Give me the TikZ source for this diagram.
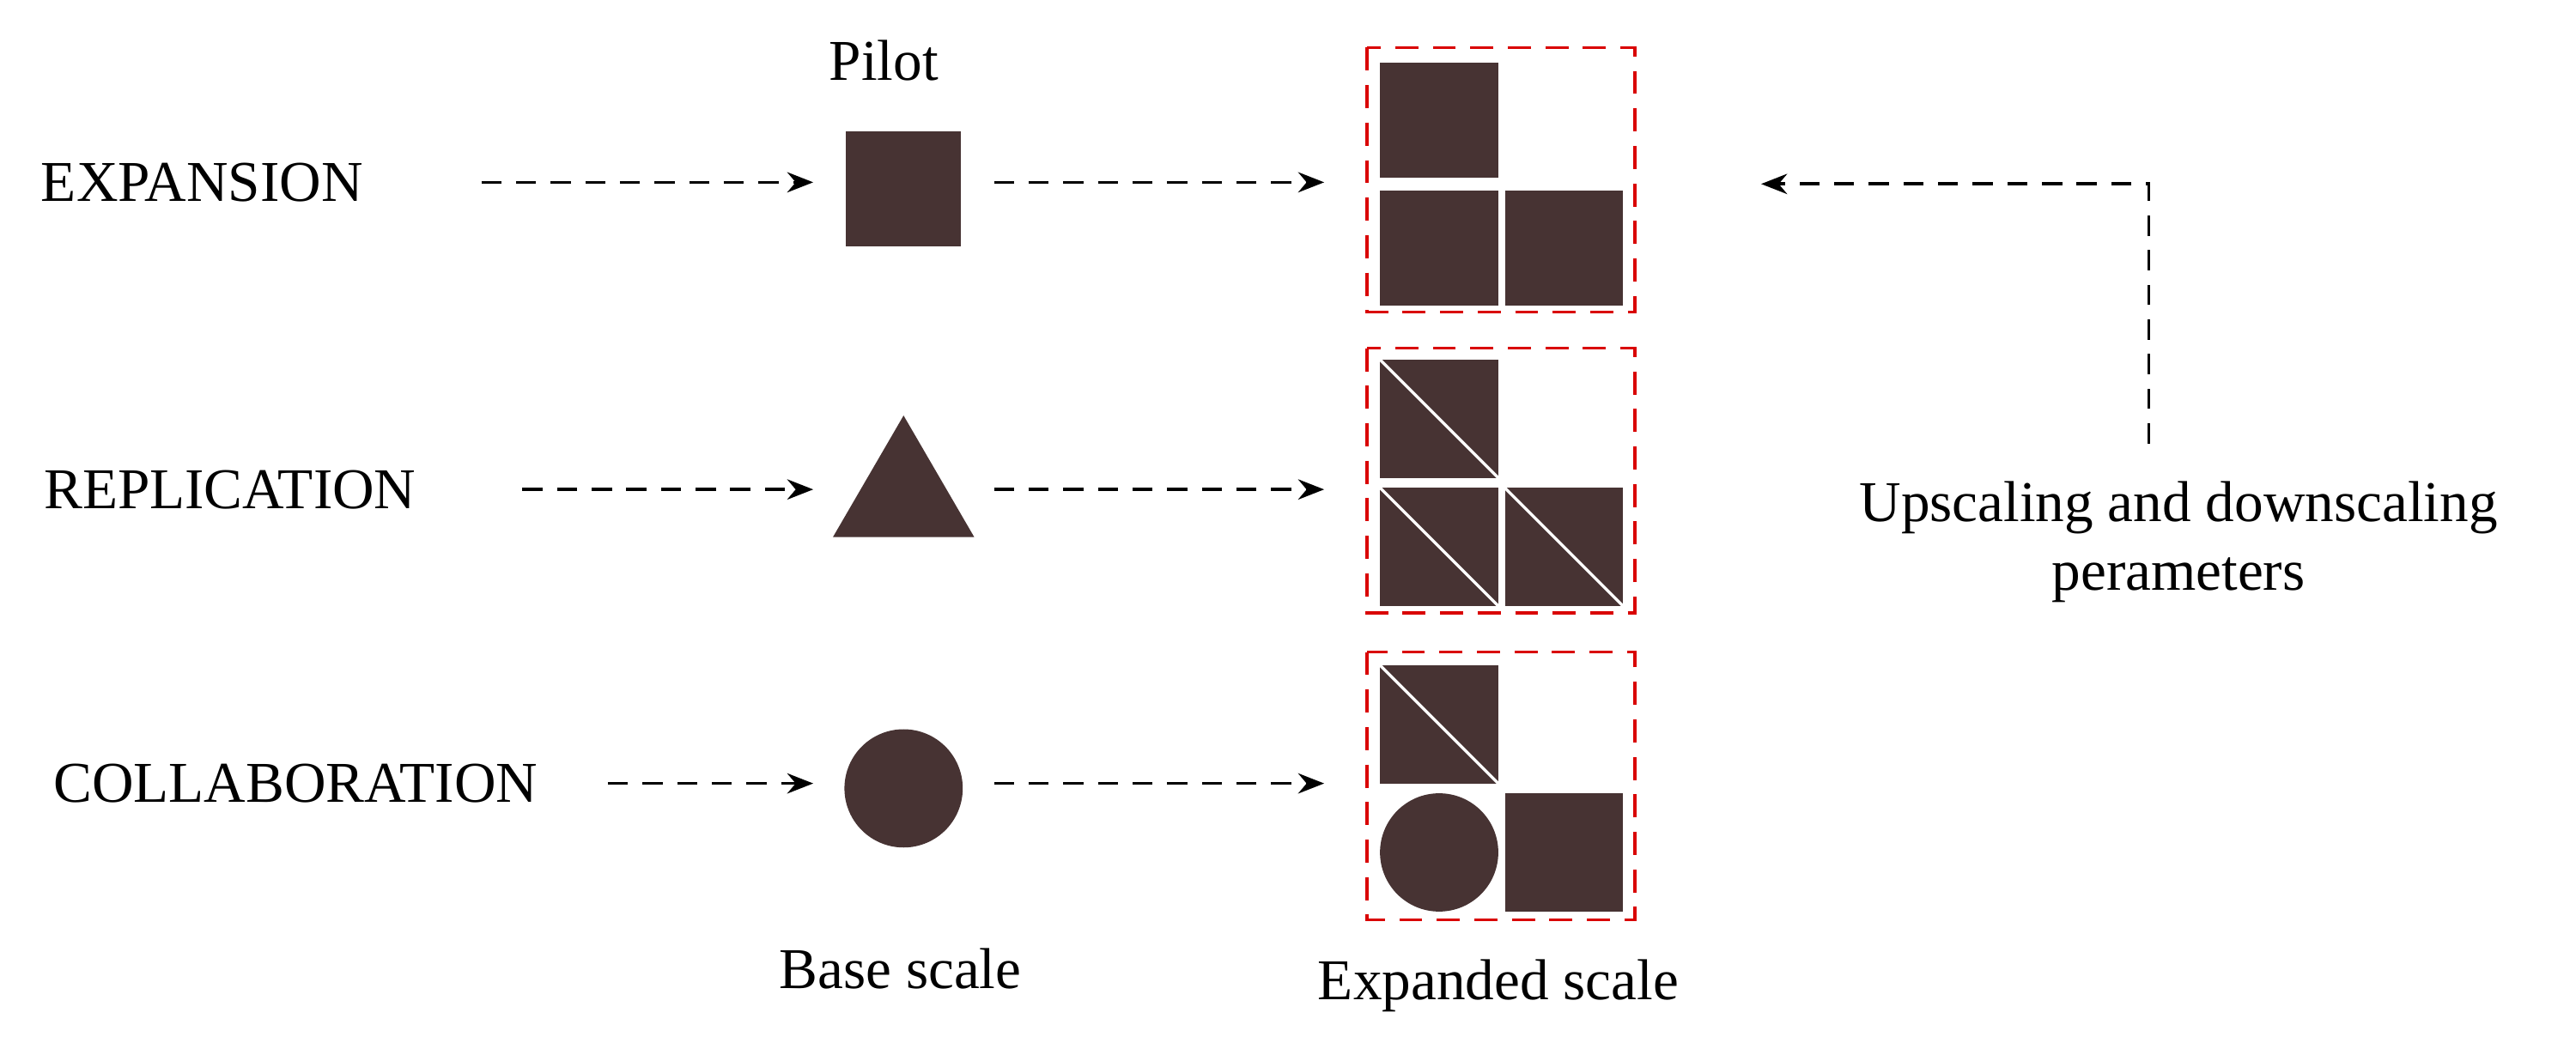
\documentclass[tikz,border=0pt]{standalone}
\usepackage{fontspec}
\setmainfont{Liberation Serif}
\usetikzlibrary{arrows.meta}
\begin{document}
\begin{tikzpicture}[x=0.02cm,y=-0.02cm,
  lbl/.style={font=\fontsize{20}{24}\selectfont},
  arr/.style={dashed,dash pattern=on 7pt off 5pt,line width=1.1pt,-{Stealth[length=9pt,width=7pt]}},
  box/.style={draw=red!85!black,dashed,dash pattern=on 8pt off 5pt,line width=1.1pt},
  blk/.style={fill=black!90!red!80}]
\useasboundingbox (0,0) rectangle (1568,635);
% labels
\node[lbl] (e) at (123,111) {EXPANSION};
\node[lbl] (r) at (140,298) {REPLICATION};
\node[lbl] (c) at (180,477) {COLLABORATION};
\node[lbl] (pilot) at (538,37) {Pilot};
\node[lbl] (base) at (548,590) {Base scale};
\node[lbl] (exp) at (912,600) {Expanded scale};
\node[lbl,align=center] (up) at (1326,330) {Upscaling and downscaling\\perameters};
% pilot shapes
\fill[blk] (515,80) rectangle (585,150);
\fill[blk] (550,253) -- (593,327) -- (507,327) -- cycle;
\fill[blk] (550,480) circle (36);
\coordinate (p1) at (495,111); \coordinate (p2) at (495,298); \coordinate (p3) at (495,477);
\coordinate (s1) at (605,111); \coordinate (s2) at (605,298); \coordinate (s3) at (605,477);
\coordinate (t1) at (806,111); \coordinate (t2) at (806,298); \coordinate (t3) at (806,477);
\draw[arr] (293,111) -- (p1);
\draw[arr] (318,298) -- (p2);
\draw[arr] (370,477) -- (p3);
\draw[arr] (s1) -- (t1);
\draw[arr] (s2) -- (t2);
\draw[arr] (s3) -- (t3);
% boxes
\draw[box] (832,29) rectangle (995,190);
\draw[box] (832,212) rectangle (995,373);
\draw[box] (832,397) rectangle (995,560);
% box1
\fill[blk] (840,38) rectangle (912,108);
\fill[blk] (840,116) rectangle (912,186);
\fill[blk] (916,116) rectangle (988,186);
% box2
\foreach \x/\y in {840/219,840/297,916/297}{
  \fill[blk] (\x,\y) rectangle ++(72,72);
  \draw[white,line width=1pt] (\x,\y) -- ++(72,72);
}
% box3
\fill[blk] (840,405) rectangle ++(72,72);
\draw[white,line width=1pt] (840,405) -- ++(72,72);
\fill[blk] (876,519) circle (36);
\fill[blk] (916,483) rectangle (988,555);
% right arrow
\coordinate (rs) at (1308,270);
\coordinate (rc) at (1308,112);
\coordinate (re) at (1072,112);
\draw[arr] (rs) -- (rc) -- (re);
\end{tikzpicture}
\end{document}
